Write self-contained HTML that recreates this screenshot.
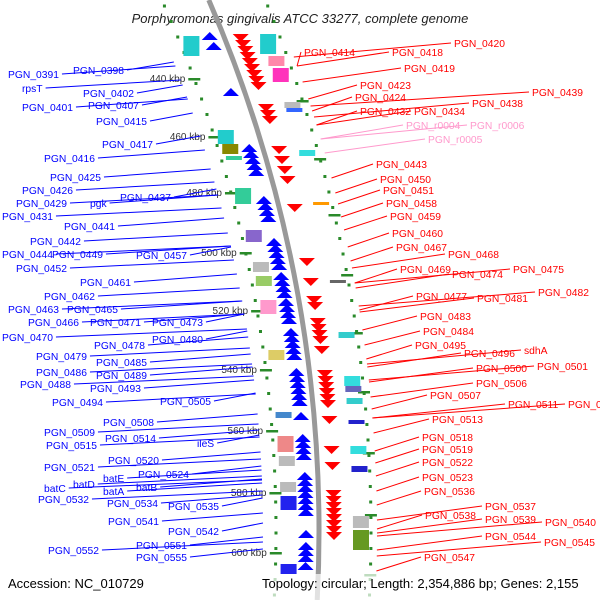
<!DOCTYPE html>
<html><head><meta charset="utf-8"><style>
body{margin:0;background:#fff;}
svg{display:block;font-family:"Liberation Sans",sans-serif;}
</style></head><body>
<svg id="c" width="600" height="600" viewBox="0 0 600 600">
<rect width="600" height="600" fill="#fff"/>
<text x="300" y="23" text-anchor="middle" font-size="13" font-style="italic" fill="#222">Porphyromonas gingivalis ATCC 33277, complete genome</text>
<g id="layer"></g>
<rect x="0" y="574" width="600" height="26" fill="#fff" opacity="0.7"/>
<text x="8" y="588" font-size="13" fill="#000">Accession: NC_010729</text>
<text x="262" y="588" font-size="13" fill="#000">Topology: circular; Length: 2,354,886 bp; Genes: 2,155</text>
</svg>
<script>
const leftLabels=[["PGN_0391",8,74],["PGN_0398",73,70],["rpsT",22,88],["PGN_0402",83,93],["PGN_0401",22,107],["PGN_0407",88,105],["PGN_0415",96,121],["PGN_0417",102,144],["PGN_0416",44,158],["PGN_0425",50,177],["PGN_0426",22,190],["PGN_0429",16,203],["pgk",90,203],["PGN_0437",120,197],["PGN_0431",2,216],["PGN_0441",64,226],["PGN_0442",30,241],["PGN_0444",2,254],["PGN_0449",52,254],["PGN_0457",136,255],["PGN_0452",16,268],["PGN_0461",80,282],["PGN_0462",44,296],["PGN_0465",67,309],["PGN_0463",8,309],["PGN_0466",28,322],["PGN_0471",90,322],["PGN_0473",152,322],["PGN_0470",2,337],["PGN_0480",152,339],["PGN_0478",94,345],["PGN_0479",36,356],["PGN_0485",96,362],["PGN_0486",36,372],["PGN_0489",96,375],["PGN_0488",20,384],["PGN_0493",90,388],["PGN_0494",52,402],["PGN_0505",160,401],["PGN_0508",103,422],["PGN_0509",44,432],["PGN_0514",105,438],["ileS",197,443],["PGN_0515",46,445],["PGN_0520",108,460],["PGN_0521",44,467],["PGN_0524",138,474],["batE",103,478],["batD",73,484],["batB",136,487],["batA",103,491],["batC",44,488],["PGN_0532",38,499],["PGN_0534",107,503],["PGN_0535",168,506],["PGN_0541",108,521],["PGN_0542",168,531],["PGN_0551",136,545],["PGN_0552",48,550],["PGN_0555",136,557]];
const rightLabels=[["PGN_0414",304,52],["PGN_0418",392,52],["PGN_0420",454,43],["PGN_0419",404,68],["PGN_0423",360,85],["PGN_0424",355,97],["PGN_0438",472,103],["PGN_0439",532,92],["PGN_0432",360,111],["PGN_0434",414,111],["PGN_r0004",406,125],["PGN_r0006",470,125],["PGN_r0005",428,139],["PGN_0443",376,164],["PGN_0450",380,179],["PGN_0451",383,190],["PGN_0458",386,203],["PGN_0459",390,216],["PGN_0460",392,233],["PGN_0467",396,247],["PGN_0468",448,254],["PGN_0469",400,269],["PGN_0474",452,274],["PGN_0475",513,269],["PGN_0477",416,296],["PGN_0481",477,298],["PGN_0482",538,292],["PGN_0483",420,316],["PGN_0484",423,331],["PGN_0495",415,345],["PGN_0496",464,353],["sdhA",524,350],["PGN_0500",476,368],["PGN_0501",537,366],["PGN_0506",476,383],["PGN_0507",430,395],["PGN_0511",508,404],["PGN_0512",568,404],["PGN_0513",432,419],["PGN_0518",422,437],["PGN_0519",422,449],["PGN_0522",422,462],["PGN_0523",422,477],["PGN_0536",424,491],["PGN_0537",485,506],["PGN_0538",425,515],["PGN_0539",485,519],["PGN_0540",545,522],["PGN_0544",485,536],["PGN_0545",544,542],["PGN_0547",424,557]];
const kbpLabels=["440 kbp","460 kbp","480 kbp","500 kbp","520 kbp","540 kbp","560 kbp","580 kbp","600 kbp"];
const kbpY=[79,137,193,253,311,370,431,493,553];
const blueArrowY=[36,46,92,148,154,160,166,172,200,206,212,218,242,248,254,260,266,276,282,288,294,302,308,314,320,332,338,344,350,356,372,378,384,390,396,402,416,438,444,450,456,476,482,488,494,500,506,512,534,546,552,558,566];
const redArrowY=[38,44,50,56,62,68,74,80,86,108,114,120,150,160,170,180,208,262,282,300,306,322,328,334,340,350,374,380,386,392,398,404,420,450,466,494,500,506,512,518,524,530,536];
const leftBoxes=[[36,20,"#2cc"],[130,14,"#2cc"],[144,10,"#880"],[156,4,"#3c9"],[188,16,"#3c9"],[230,12,"#86c"],[262,10,"#bbb"],[276,10,"#9c6"],[300,14,"#f9c"],[350,10,"#dc6"],[412,6,"#48c"],[436,16,"#e88"],[456,10,"#bbb"],[482,10,"#bbb"],[496,14,"#22e"],[564,10,"#22e"]];
const rightBoxes=[[34,20,"#2cc"],[56,10,"#f8a"],[68,14,"#f3b"],[102,6,"#bbb"],[108,4,"#36f"],[150,6,"#3dd"],[202,3,"#f90"],[280,3,"#666"],[332,6,"#3cc"],[376,10,"#3dd"],[386,6,"#66b"],[398,6,"#3cc"],[420,4,"#22c"],[446,8,"#3dd"],[466,6,"#22c"],[516,12,"#bbb"],[530,20,"#692"]];

const NS="http://www.w3.org/2000/svg";
const CX=-1015,CY=531,R=1334;
const g=document.getElementById('layer');
function xAt(r,y){return CX+Math.sqrt(r*r-(y-CY)*(y-CY));}
function mk(tag,attrs){const e=document.createElementNS(NS,tag);for(const k in attrs)e.setAttribute(k,attrs[k]);g.appendChild(e);return e;}
const bb=mk('path',{d:`M${xAt(R,0)},0 A${R},${R} 0 0 1 ${xAt(R,600)},600`,fill:'none',stroke:'#999',"stroke-width":5});


for(const [off,nm] of [[-43,'inner-tick-ring'],[52,'outer-tick-ring']]){
  for(let y=6;y<600;y+=15.5){
    const x=xAt(R+off,y);
    const d=mk('rect',{x:x-1.5,y:y-1.5,width:3,height:3,fill:'#2a8a2a'});
    
    
  }
}
kbpY.forEach((y,i)=>{
  const x=xAt(R-43,y);
  const t=mk('rect',{x:x-6,y:y-1,width:12,height:2.5,fill:'#2a8a2a'});
  
  
  const tx=mk('text',{x:x-9,y:y+3,"text-anchor":"end","font-size":10,fill:'#333'});
  tx.textContent=kbpLabels[i];
  
  
  const t2=mk('rect',{x:xAt(R+52,y+22)-6,y:y+21,width:12,height:2.5,fill:'#2a8a2a'});
  
  
});
leftBoxes.forEach(b=>{const x=xAt(R-30,b[0]);const e=mk('rect',{x:x-8,y:b[0],width:16,height:b[1],fill:b[2]});
  
  });
rightBoxes.forEach(b=>{const x=xAt(R+42,b[0]);const e=mk('rect',{x:x-8,y:b[0],width:16,height:b[1],fill:b[2]});
  
  });
blueArrowY.forEach(y=>{const x=xAt(R-13,y);const e=mk('polygon',{points:`${x-8},${y+4} ${x},${y-4} ${x+8},${y+4}`,fill:'#00f'});
  
  });
redArrowY.forEach(y=>{const x=xAt(R+15,y);const e=mk('polygon',{points:`${x-8},${y-4} ${x},${y+4} ${x+8},${y-4}`,fill:'#f00'});
  
  });
leftLabels.forEach(l=>{
  const t=mk('text',{x:l[1],y:l[2]+4,"font-size":10.3,fill:'#00f'});t.textContent=l[0];
  
  
  const w=t.getComputedTextLength();const ty=l[2]-8;
  const ln=mk('line',{x1:l[1]+w+3,y1:l[2],x2:xAt(R-56,ty),y2:ty,stroke:'#00f',"stroke-width":1});
  
  
});
rightLabels.forEach(l=>{
  const pink=l[0].indexOf('r0')>0;
  const col=pink?'#f9c':'#f00';
  const t=mk('text',{x:l[1],y:l[2]+4,"font-size":10.3,fill:col});t.textContent=l[0];
  
  
  const ty=l[2]+14;
  const ln=mk('line',{x1:l[1]-3,y1:l[2],x2:xAt(R+58,ty),y2:ty,stroke:col,"stroke-width":1});
  
  
});
</script>
</body></html>
